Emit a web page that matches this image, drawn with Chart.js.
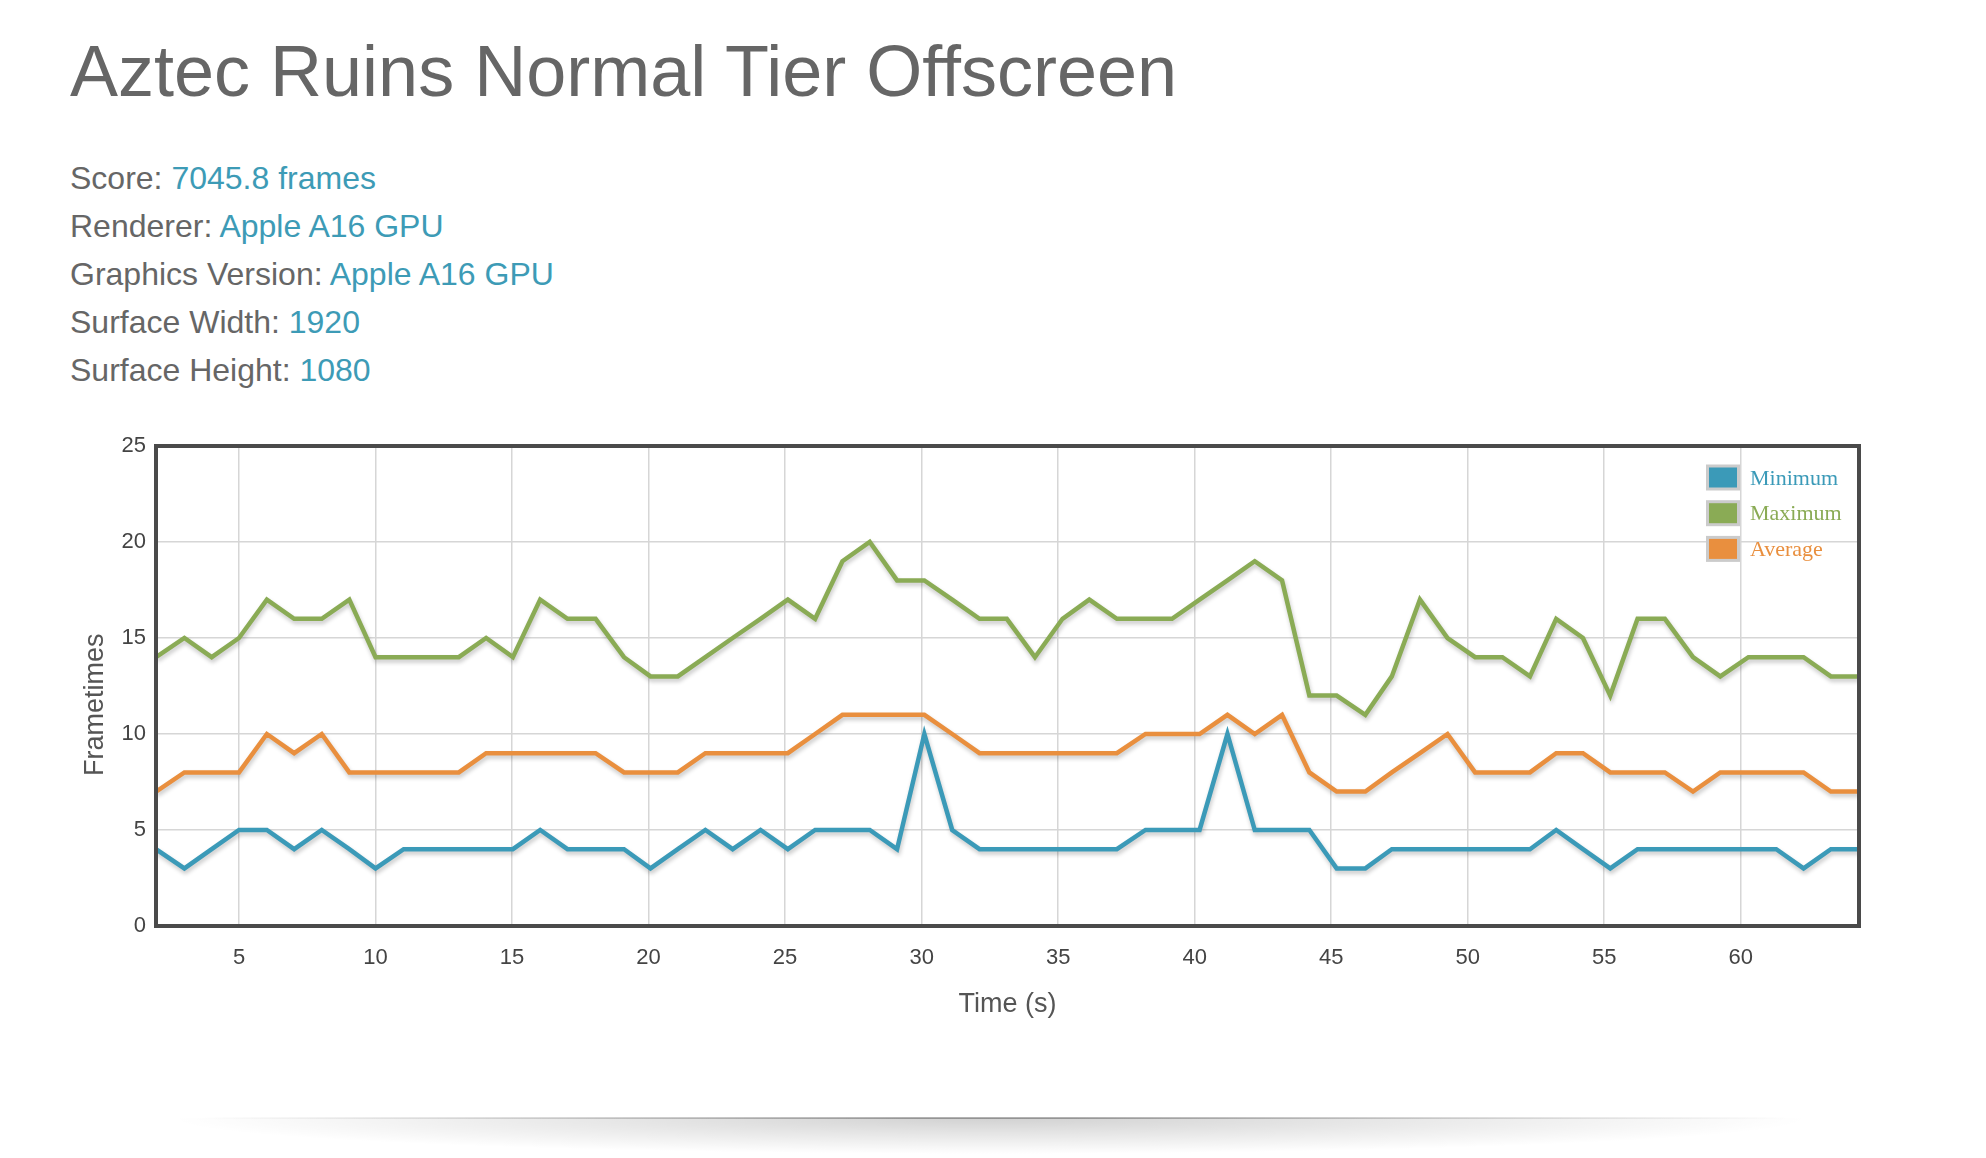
<!DOCTYPE html>
<html>
<head>
<meta charset="utf-8">
<title>Aztec Ruins Normal Tier Offscreen</title>
<script src="https://cdn.jsdelivr.net/npm/chart.js@4.4.1/dist/chart.umd.min.js"></script>
<style>
    html, body { margin: 0; padding: 0; background: #fff; }
    body { width: 1986px; height: 1158px; position: relative; overflow: hidden;
           font-family: "Liberation Sans", Arial, Helvetica, sans-serif; color: #666; }
    h1 { position: absolute; left: 70px; top: 35px; margin: 0; font-size: 72px; line-height: 1;
         font-weight: normal; color: #666; white-space: nowrap; }
    .info { position: absolute; left: 70px; top: 155px; font-size: 32px; line-height: 47.9px; }
    .info span { color: #3d9bb6; }
    #chart-wrap { position: absolute; left: 0; top: 420px; width: 1986px; height: 620px; }
    .shadow { position: absolute; left: 170px; top: 1118px; width: 1640px; height: 36px;
              background: radial-gradient(ellipse 50% 100% at 50% 0%, rgba(0,0,0,0.18), rgba(0,0,0,0) 100%); }
    .shadow-line { position: absolute; left: 200px; top: 1117px; width: 1590px; height: 2px;
                   background: linear-gradient(to right, rgba(0,0,0,0), rgba(0,0,0,0.3) 45%, rgba(0,0,0,0.3) 55%, rgba(0,0,0,0)); }
</style>
</head>
<body>
<h1>Aztec Ruins Normal Tier Offscreen</h1>
<div class="info">
    <div>Score: <span>7045.8 frames</span></div>
    <div>Renderer: <span>Apple A16 GPU</span></div>
    <div>Graphics Version: <span>Apple A16 GPU</span></div>
    <div>Surface Width: <span>1920</span></div>
    <div>Surface Height: <span>1080</span></div>
</div>
<div id="chart-wrap"><canvas id="chart-frametimes" width="1986" height="620"></canvas></div>
<div class="shadow-line"></div>
<div class="shadow"></div>

<script>
// Tiempos de muestra (s)
const times = [
    1.96, 3.0, 4.0, 5.0, 6.02, 7.02, 8.03, 9.04, 10.0, 11.03,
    12.04, 13.05, 14.05, 15.03, 16.03, 17.03, 18.06, 19.1, 20.07, 21.07,
    22.08, 23.08, 24.1, 25.1, 26.1, 27.1, 28.1, 29.1, 30.1, 31.12,
    32.12, 33.12, 34.15, 35.16, 36.14, 37.15, 38.2, 39.17, 40.18, 41.2,
    42.2, 43.2, 44.2, 45.2, 46.25, 47.22, 48.25, 49.26, 50.27, 51.27,
    52.28, 53.24, 54.22, 55.22, 56.22, 57.22, 58.25, 59.25, 60.28, 61.3,
    62.3, 63.3, 64.33
];
const minimum = [
    4, 3, 4, 5, 5, 4, 5, 4, 3, 4,
    4, 4, 4, 4, 5, 4, 4, 4, 3, 4,
    5, 4, 5, 4, 5, 5, 5, 4, 10, 5,
    4, 4, 4, 4, 4, 4, 5, 5, 5, 10,
    5, 5, 5, 3, 3, 4, 4, 4, 4, 4,
    4, 5, 4, 3, 4, 4, 4, 4, 4, 4,
    3, 4, 4
];
const maximum = [
    14, 15, 14, 15, 17, 16, 16, 17, 14, 14,
    14, 14, 15, 14, 17, 16, 16, 14, 13, 13,
    14, 15, 16, 17, 16, 19, 20, 18, 18, 17,
    16, 16, 14, 16, 17, 16, 16, 16, 17, 18,
    19, 18, 12, 12, 11, 13, 17, 15, 14, 14,
    13, 16, 15, 12, 16, 16, 14, 13, 14, 14,
    14, 13, 13
];
const average = [
    7, 8, 8, 8, 10, 9, 10, 8, 8, 8,
    8, 8, 9, 9, 9, 9, 9, 8, 8, 8,
    9, 9, 9, 9, 10, 11, 11, 11, 11, 10,
    9, 9, 9, 9, 9, 9, 10, 10, 10, 11,
    10, 11, 8, 7, 7, 8, 9, 10, 8, 8,
    8, 9, 9, 8, 8, 8, 7, 8, 8, 8,
    8, 7, 7
];
const seriesNames = ['Minimum', 'Maximum', 'Average'];
const seriesColors = ['#3b9ab8', '#8aab55', '#e98f3e'];
const yTicks = [0, 5, 10, 15, 20, 25];

const toPoints = values => values.map((v, i) => ({ x: times[i], y: v }));

// Sombra suave bajo cada línea
const lineShadow = {
    id: 'lineShadow',
    beforeDatasetDraw(chart) {
        const ctx = chart.ctx;
        ctx.save();
        ctx.shadowColor = 'rgba(0, 0, 0, 0.22)';
        ctx.shadowBlur = 4;
        ctx.shadowOffsetX = 1;
        ctx.shadowOffsetY = 3;
    },
    afterDatasetDraw(chart) {
        chart.ctx.restore();
    }
};

// Marco oscuro alrededor del área y leyenda dentro, arriba a la derecha
const frameAndLegend = {
    id: 'frameAndLegend',
    afterDatasetsDraw(chart) {
        const { ctx, chartArea: a } = chart;
        ctx.save();
        ctx.strokeStyle = '#4a4a4a';
        ctx.lineWidth = 4;
        ctx.strokeRect(a.left, a.top, a.right - a.left, a.bottom - a.top);

        const boxX = a.right - 153;
        chart.data.datasets.forEach((ds, i) => {
            const top = a.top + 18.5 + i * 35.7;
            ctx.fillStyle = '#cbcbcb';
            ctx.fillRect(boxX, top, 34, 26);
            ctx.fillStyle = ds.borderColor;
            ctx.fillRect(boxX + 3, top + 3, 28, 20);
            ctx.font = '22px "Liberation Serif", "Times New Roman", serif';
            ctx.textBaseline = 'alphabetic';
            ctx.textAlign = 'left';
            ctx.fillText(ds.label, boxX + 44, top + 20);
        });
        ctx.restore();
    }
};

new Chart(document.getElementById('chart-frametimes'), {
    type: 'line',
    data: {
        datasets: [
            { label: seriesNames[0], data: toPoints(minimum), borderColor: seriesColors[0] },
            { label: seriesNames[1], data: toPoints(maximum), borderColor: seriesColors[1] },
            { label: seriesNames[2], data: toPoints(average), borderColor: seriesColors[2] },
        ],
    },
    options: {
        responsive: false,
        animation: false,
        devicePixelRatio: 1,
        layout: { padding: { top: 26, right: 127, left: 0, bottom: 19.3 } },
        elements: {
            line: { borderWidth: 4.5, tension: 0, fill: false, borderJoinStyle: 'miter' },
            point: { radius: 0, hoverRadius: 0 },
        },
        plugins: {
            legend: { display: false },
            tooltip: { enabled: false },
        },
        scales: {
            x: {
                type: 'linear',
                min: times[0],
                max: times[times.length - 1],
                afterFit: scale => { scale.height = 94.7; },
                border: { display: false },
                grid: { color: '#d6d6d6', lineWidth: 1.5, drawTicks: false },
                ticks: {
                    stepSize: 5,
                    includeBounds: false,
                    padding: 19,
                    color: '#444',
                    font: { family: '"Liberation Sans", Arial, sans-serif', size: 22 },
                },
                title: {
                    display: true,
                    text: 'Time (s)',
                    color: '#555',
                    padding: { top: 0, bottom: 0 },
                    font: { family: '"Liberation Sans", Arial, sans-serif', size: 27 },
                },
            },
            y: {
                min: yTicks[0],
                max: yTicks[yTicks.length - 1],
                afterFit: scale => { scale.width = 156; },
                afterBuildTicks: scale => { scale.ticks = yTicks.map(v => ({ value: v })); },
                border: { display: false },
                grid: { color: '#d6d6d6', lineWidth: 1.5, drawTicks: false },
                ticks: {
                    padding: 10,
                    color: '#444',
                    font: { family: '"Liberation Sans", Arial, sans-serif', size: 22 },
                },
                title: {
                    display: true,
                    // espacios finales: bajan un poco el texto girado
                    text: 'Frametimes     ',
                    color: '#555',
                    padding: { top: 79, bottom: 0 },
                    font: { family: '"Liberation Sans", Arial, sans-serif', size: 27 },
                },
            },
        },
    },
    plugins: [lineShadow, frameAndLegend],
});
</script>
</body>
</html>
